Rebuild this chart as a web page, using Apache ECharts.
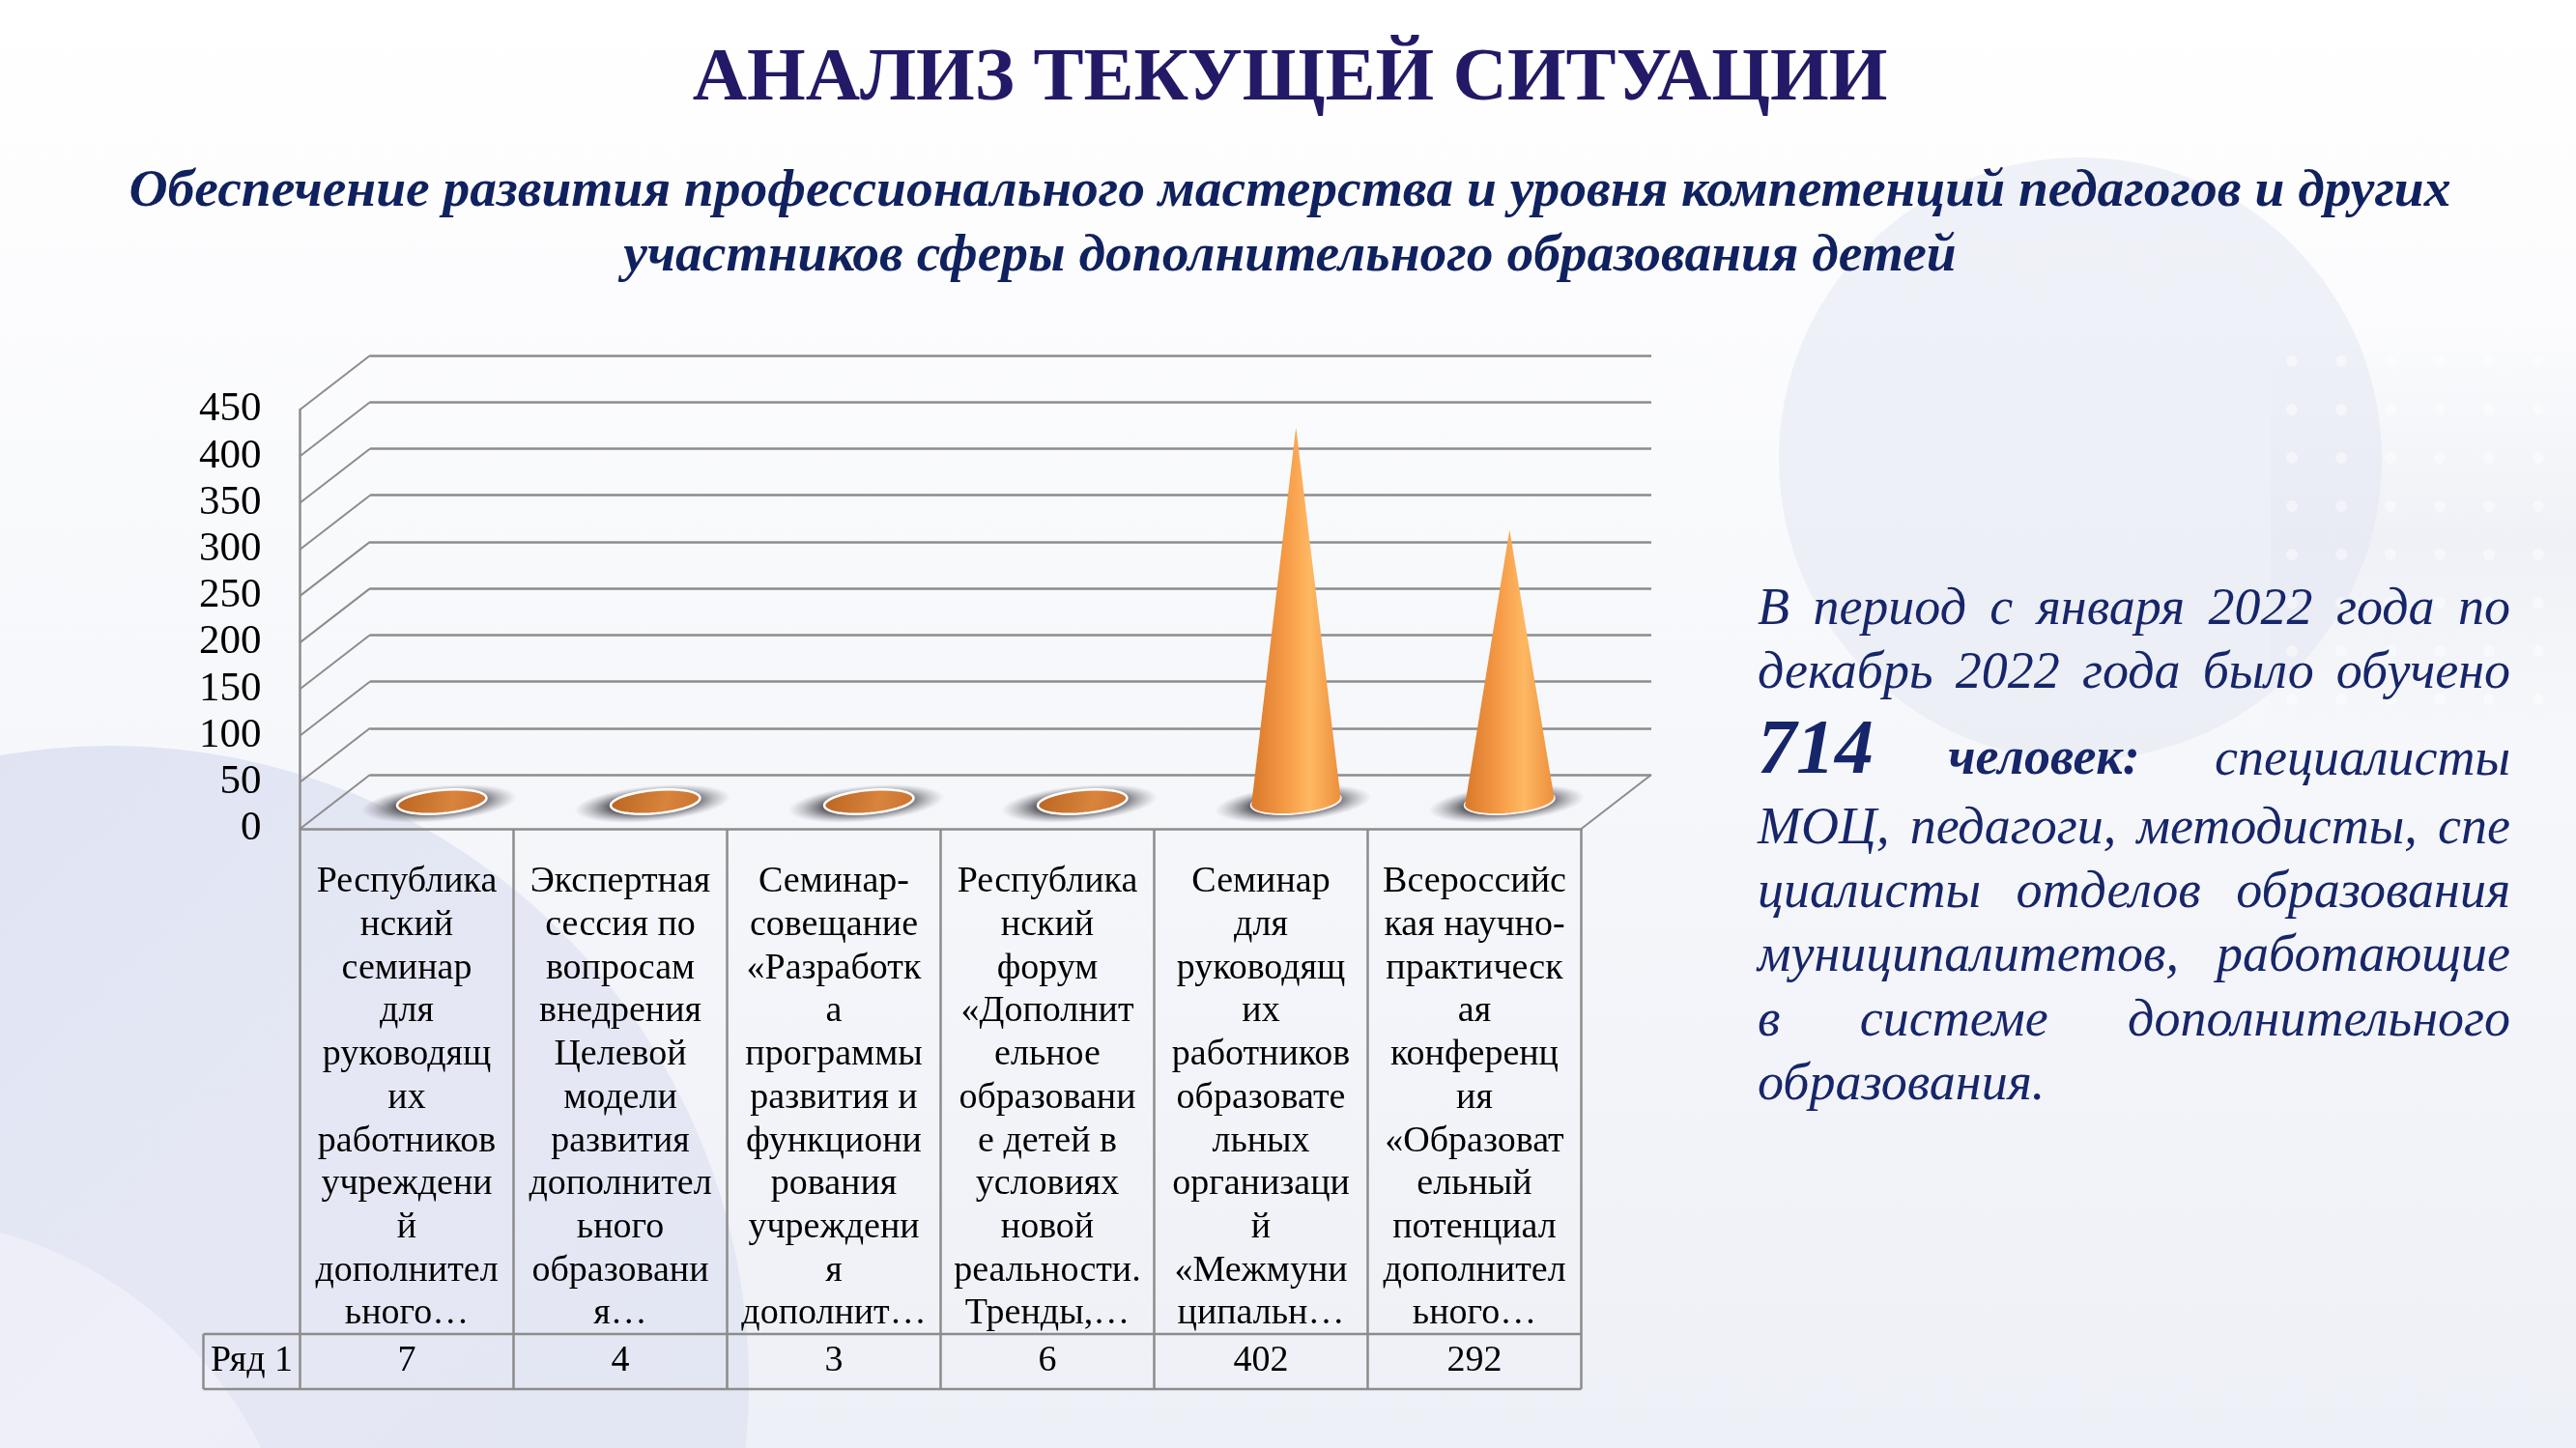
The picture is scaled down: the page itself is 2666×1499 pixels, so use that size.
<!DOCTYPE html>
<html>
<head>
<meta charset="utf-8">
<title>Анализ текущей ситуации</title>
<script src="https://cdn.jsdelivr.net/npm/echarts@6/dist/echarts.min.js"></script>
<style>
  html, body { margin: 0; padding: 0; background: #fff; }
  #main { width: 2666px; height: 1499px; }
</style>
</head>
<body>
<div id="main"></div>
<script>
// ---- data ----
var categories = [
    "Республика\nнский\nсеминар\nдля\nруководящ\nих\nработников\nучреждени\nй\nдополнител\nьного…",
    "Экспертная\nсессия по\nвопросам\nвнедрения\nЦелевой\nмодели\nразвития\nдополнител\nьного\nобразовани\nя…",
    "Семинар-\nсовещание\n«Разработк\nа\nпрограммы\nразвития и\nфункциони\nрования\nучреждени\nя\nдополнит…",
    "Республика\nнский\nфорум\n«Дополнит\nельное\nобразовани\nе детей в\nусловиях\nновой\nреальности.\nТренды,…",
    "Семинар\nдля\nруководящ\nих\nработников\nобразовате\nльных\nорганизаци\nй\n«Межмуни\nципальн…",
    "Всероссийс\nкая научно-\nпрактическ\nая\nконференц\nия\n«Образоват\nельный\nпотенциал\nдополнител\nьного…"
];
var seriesName = "Ряд 1";
var values = [7, 4, 3, 6, 402, 292];
var yTicks = [0, 50, 100, 150, 200, 250, 300, 350, 400, 450];

var titleText = "АНАЛИЗ ТЕКУЩЕЙ СИТУАЦИИ";
var subtitleLines = [
    "Обеспечение развития профессионального мастерства и уровня компетенций педагогов и других",
    "участников сферы дополнительного образования детей"
];
// paragraph at the right, one entry per line: [text, style]
var paraLines = [
    [["В период с января 2022 года по", "it"]],
    [["декабрь 2022 года было обучено", "it"]],
    [["714", "big"], ["человек:", "bold"], ["специалисты", "it"]],
    [["МОЦ, педагоги, методисты, спе", "it"]],
    [["циалисты отделов образования", "it"]],
    [["муниципалитетов, работающие", "it"]],
    [["в системе дополнительного", "it"]],
    [["образования.", "it"]]
];

// ---- layout ----
var SERIF = "Liberation Serif";
var GRID_COLOR = "#8c8c8c";
var DX = -72.5, DY = 56;               // depth offset of the 3d box (back -> front)
var BOX = { left: 383, top: 368, width: 1326, height: 434 };
var TABLE_H = 580;                      // from floor front edge to table bottom
var ROW_H = 57;                         // "Ряд 1" row height

function gridAt(k) {
    return { left: BOX.left + DX * k, top: BOX.top + DY * k, width: BOX.width, height: BOX.height };
}
var front = gridAt(1);

var chart = echarts.init(document.getElementById("main"), null, { renderer: "canvas" });

// ---- cones ----
function ellipsePts(cx, cy, a, b, tilt, t0, t1, n) {
    var pts = [];
    for (var k = 0; k <= n; k++) {
        var t = t0 + (t1 - t0) * k / n;
        var x = a * Math.cos(t), y = b * Math.sin(t);
        pts.push([cx + x * Math.cos(tilt) + y * Math.sin(tilt),
                  cy - x * Math.sin(tilt) + y * Math.cos(tilt)]);
    }
    return pts;
}

function renderCone(params, api) {
    var i = api.value(0), v = api.value(1);
    var base = api.coord([i, 0]);
    var top = api.coord([i, v]);
    var band = api.size([1, 0])[0];
    var rx = band * 0.21, ry = rx * 0.26, tilt = 0.09;
    var cx = base[0], cy = base[1];
    var kids = [];
    // soft shadow under the base
    kids.push({
        type: "circle",
        x: cx - 3, y: cy + 2, scaleY: 0.23, rotation: tilt,
        shape: { cx: 0, cy: 0, r: rx * 1.75 },
        style: {
            fill: new echarts.graphic.RadialGradient(0.5, 0.5, 0.5, [
                { offset: 0, color: "rgba(40,40,45,1)" },
                { offset: 0.55, color: "rgba(70,70,76,0.85)" },
                { offset: 1, color: "rgba(140,140,150,0)" }
            ])
        }
    });
    kids.push({
        type: "polygon",
        shape: { points: ellipsePts(cx, cy, rx, ry, tilt, 0, Math.PI * 2, 48) },
        style: {
            fill: new echarts.graphic.LinearGradient(0, 0, 1, 1, [
                { offset: 0, color: "#b8631f" }, { offset: 0.6, color: "#d9843d" }, { offset: 1, color: "#c9712f" }
            ]),
            stroke: "#ffffff", lineWidth: 2.5
        }
    });
    if (base[1] - top[1] > ry * 2) {
        var lower = ellipsePts(cx, cy, rx, ry, tilt, 0, Math.PI, 24);
        kids.push({
            type: "polygon",
            shape: { points: [[top[0], top[1]]].concat(lower) },
            style: {
                fill: new echarts.graphic.LinearGradient(0, 0, 1, 0, [
                    { offset: 0, color: "#d9782b" },
                    { offset: 0.4, color: "#f79c47" },
                    { offset: 0.66, color: "#ffb862" },
                    { offset: 1, color: "#ec8f3c" }
                ])
            }
        });
        kids.push({
            type: "polyline",
            shape: { points: lower },
            style: { stroke: "rgba(255,240,225,0.9)", lineWidth: 1.5, fill: null }
        });
    }
    return { type: "group", children: kids };
}

// left wall lines and right floor edge
function renderWall(params, api) {
    var cs = params.coordSys;
    var v = api.value(1);
    var y = api.coord([0, v])[1];
    var st = { stroke: GRID_COLOR, lineWidth: 2 };
    var kids = [{ type: "line", shape: { x1: cs.x, y1: y, x2: cs.x + DX, y2: y + DY }, style: st }];
    if (v === 0) {
        kids.push({ type: "line", shape: { x1: cs.x + cs.width, y1: y, x2: cs.x + cs.width + DX, y2: y + DY }, style: st });
    }
    return { type: "group", children: kids };
}

// ---- justified paragraph ----
var FONTS = {
    it: { style: "italic", weight: "normal", size: 54 },
    bold: { style: "italic", weight: "bold", size: 54 },
    big: { style: "italic", weight: "bold", size: 80 }
};
var PARA_LEFT = 1819, PARA_RIGHT = 2598;
var paraBaselines = [648, 714, 804, 875, 941, 1007, 1074, 1140];
var mctx = document.createElement("canvas").getContext("2d");

function cssFont(f) {
    return f.style + " " + f.weight + " " + f.size + "px '" + SERIF + "'";
}

function buildParagraph() {
    var els = [];
    paraLines.forEach(function (line, li) {
        var words = [];
        line.forEach(function (seg) {
            seg[0].split(" ").forEach(function (w) { words.push({ t: w, f: FONTS[seg[1]] }); });
        });
        var total = 0;
        words.forEach(function (w) { mctx.font = cssFont(w.f); w.w = mctx.measureText(w.t).width; total += w.w; });
        var last = li === paraLines.length - 1;
        mctx.font = cssFont(FONTS.it);
        var gap = last ? mctx.measureText(" ").width : (PARA_RIGHT - PARA_LEFT - total) / (words.length - 1);
        var x = PARA_LEFT;
        words.forEach(function (w) {
            els.push({
                type: "text", z: 20,
                style: {
                    text: w.t, x: x, y: paraBaselines[li] - 0.305 * w.f.size,
                    fontFamily: SERIF, fontSize: w.f.size, fontStyle: w.f.style, fontWeight: w.f.weight,
                    fill: "#17266a", textAlign: "left", textVerticalAlign: "middle"
                }
            });
            x += w.w + gap;
        });
    });
    return els;
}

function textEl(text, x, y, size, style, weight, color) {
    return {
        type: "text", z: 20,
        style: {
            text: text, x: x, y: y, fontFamily: SERIF, fontSize: size,
            fontStyle: style, fontWeight: weight, fill: color,
            textAlign: "center", textVerticalAlign: "middle"
        }
    };
}

// decorative dot pattern at the right edge of the slide
function dotPattern() {
    var els = [];
    for (var x = 2372; x < 2666; x += 51) {
        for (var y = 374; y < 760; y += 50) {
            els.push({
                type: "circle", z: -8, silent: true,
                shape: { cx: x, cy: y, r: 6 },
                style: { fill: "rgba(255,255,255,0.45)" }
            });
        }
    }
    return els;
}

// ---- background + texts ----
var graphics = [
    {
        type: "rect", z: -10, silent: true,
        shape: { x: 0, y: 0, width: 2666, height: 1499 },
        style: { fill: new echarts.graphic.LinearGradient(0, 0, 0, 1, [
            { offset: 0, color: "#ffffff" }, { offset: 1, color: "#eef0f7" }]) }
    },
    {
        type: "rect", z: -9, silent: true,
        shape: { x: 2350, y: 340, width: 316, height: 440 },
        style: { fill: new echarts.graphic.LinearGradient(0, 0, 0, 1, [
            { offset: 0, color: "rgba(232,235,242,0)" }, { offset: 0.5, color: "rgba(230,233,241,0.5)" },
            { offset: 1, color: "rgba(232,235,242,0)" }]) }
    },
    {
        type: "circle", z: -9, silent: true,
        shape: { cx: 2153, cy: 475, r: 312 },
        style: { fill: "rgba(226,230,241,0.5)" }
    },
    {
        type: "circle", z: -9, silent: true,
        shape: { cx: 115, cy: 1432, r: 660 },
        style: { fill: new echarts.graphic.LinearGradient(0, 0, 1, 1, [
            { offset: 0, color: "#dde0f1" }, { offset: 0.5, color: "#e5e8f4" }, { offset: 1, color: "#e1e4f2" }]) }
    },
    {
        type: "circle", z: -9, silent: true,
        shape: { cx: -115, cy: 1690, r: 430 },
        style: { fill: "rgba(243,244,250,0.6)" }
    },
    textEl(titleText, 1335, 107 - 0.305 * 78, 78, "normal", "bold", "#221a66"),
    textEl(subtitleLines[0], 1335, 216 - 0.305 * 55.5, 55.5, "italic", "bold", "#10215f"),
    textEl(subtitleLines[1], 1335, 283 - 0.305 * 55.5, 55.5, "italic", "bold", "#10215f"),
    // data table: row lines and row header
    {
        type: "line", z: 5,
        shape: { x1: front.left - 100, y1: front.top + front.height + TABLE_H - ROW_H,
                 x2: front.left + front.width, y2: front.top + front.height + TABLE_H - ROW_H },
        style: { stroke: GRID_COLOR, lineWidth: 2.5 }
    },
    {
        type: "line", z: 5,
        shape: { x1: front.left - 100, y1: front.top + front.height + TABLE_H,
                 x2: front.left + front.width, y2: front.top + front.height + TABLE_H },
        style: { stroke: GRID_COLOR, lineWidth: 2.5 }
    },
    {
        type: "line", z: 5,
        shape: { x1: front.left - 100, y1: front.top + front.height + TABLE_H - ROW_H,
                 x2: front.left - 100, y2: front.top + front.height + TABLE_H },
        style: { stroke: GRID_COLOR, lineWidth: 2.5 }
    },
    textEl(seriesName, front.left - 50, front.top + front.height + TABLE_H - ROW_H / 2, 38, "normal", "normal", "#000")
].concat(dotPattern(), buildParagraph());

function hiddenCat(gi) {
    return { type: "category", gridIndex: gi, data: categories, show: false, boundaryGap: true };
}
function valAxis(gi) {
    return {
        type: "value", gridIndex: gi, min: yTicks[0], max: yTicks[yTicks.length - 1],
        interval: yTicks[1] - yTicks[0],
        axisLine: { show: false }, axisTick: { show: false },
        axisLabel: { show: false }, splitLine: { show: false }
    };
}

var yBack = valAxis(0);
yBack.splitLine = { show: true, lineStyle: { color: GRID_COLOR, width: 2.5 } };
var yFront = valAxis(2);
yFront.axisLine = { show: true, lineStyle: { color: GRID_COLOR, width: 2.5 } };
yFront.axisLabel = {
    show: true, margin: 40, fontFamily: SERIF, fontSize: 43, color: "#000"
};

var option = {
    animation: false,
    graphic: { elements: graphics },
    grid: [gridAt(0), gridAt(0.5), gridAt(1)],
    xAxis: [
        hiddenCat(0),
        hiddenCat(1),
        {
            type: "category", gridIndex: 2, data: categories, boundaryGap: true,
            axisLine: { show: true, lineStyle: { color: GRID_COLOR, width: 2.5 } },
            axisTick: { show: true, length: TABLE_H, lineStyle: { color: GRID_COLOR, width: 2.5 } },
            axisLabel: {
                interval: 0, margin: 33, verticalAlign: "top",
                fontFamily: SERIF, fontSize: 38, lineHeight: 44.7, color: "#000", align: "center"
            }
        },
        {
            type: "category", gridIndex: 2, position: "bottom",
            data: values.map(String), boundaryGap: true,
            axisLine: { show: false }, axisTick: { show: false },
            axisLabel: {
                interval: 0, margin: TABLE_H - ROW_H / 2, verticalAlign: "middle",
                fontFamily: SERIF, fontSize: 38, color: "#000"
            }
        }
    ],
    yAxis: [yBack, valAxis(1), yFront],
    series: [
        {
            type: "custom", name: "walls", xAxisIndex: 0, yAxisIndex: 0, silent: true, z: 1,
            renderItem: renderWall,
            data: yTicks.map(function (v) { return [0, v]; })
        },
        {
            type: "custom", name: seriesName, xAxisIndex: 1, yAxisIndex: 1, z: 3,
            renderItem: renderCone,
            data: values.map(function (v, i) { return [i, v]; })
        }
    ]
};

chart.setOption(option);
</script>
</body>
</html>
